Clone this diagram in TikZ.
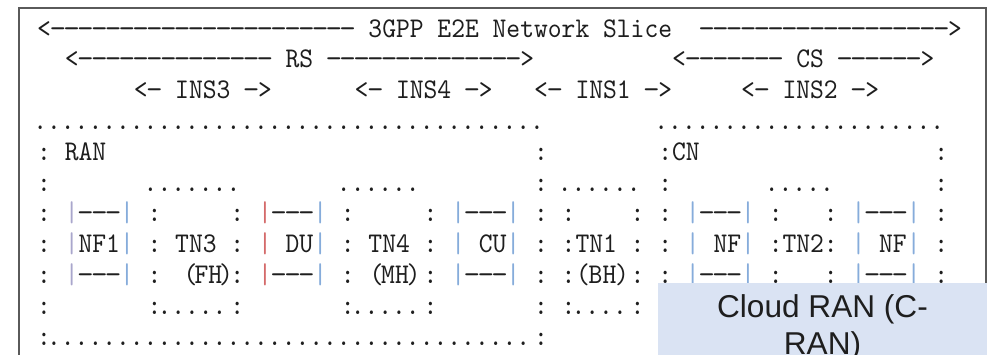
\documentclass[tikz,border=0pt]{standalone}
\usepackage{fontspec}
% typewriter grid: one character cell = 13.8 units wide
\setmonofont{lmmono10-regular.otf}[FakeStretch=0.9225]
\newfontfamily\crfont{Liberation Sans}

\definecolor{ink}{HTML}{1E1E1E}
\definecolor{frame}{HTML}{5A5A5A}
\definecolor{pipeblue}{HTML}{86ACDB}
\definecolor{pipered}{HTML}{D46A6A}
\definecolor{pipegray}{HTML}{A9A6CC}
\definecolor{cranfill}{HTML}{DAE3F3}

\newlength\cw
\newcommand\asc{\ttfamily\fontsize{28.5}{30}\selectfont\settowidth{\cw}{0}}
% n blank cells
\newcommand\gp[1]{\hspace*{#1\cw}}
% a dot sitting near the left of its cell
\newcommand\pd{\makebox[\cw][l]{\hspace*{-0.283\cw}.}}
\newcommand\pds[1]{\foreach\k in {1,...,#1}{\pd}}
% a long dash filling most of its cell
\newcommand\dd{\makebox[\cw][c]{\scalebox{1.2}[1]{-}}}
\newcommand\dsh[1]{\foreach\k in {1,...,#1}{\dd}}
\newcommand\pp[1]{\textcolor{#1}{|}}

\begin{document}
\begin{tikzpicture}[x=1pt,y=-1pt,
  row/.style={anchor=base west, inner sep=0pt, font=\asc, text=ink},
  lbl/.style={anchor=base, inner sep=0pt, font=\asc, text=ink},
  crtext/.style={anchor=base, inner sep=0pt, font=\crfont\fontsize{31.6}{36}\selectfont, text=ink}]
\useasboundingbox (0,0) rectangle (997,355);
\clip (0,0) rectangle (997,355);
\fill[white] (0,0) rectangle (997,355);

% outer frame
\draw[frame, line width=1.3pt] (19,8) rectangle (986,400);

% slice header
\node[row] (r0) at (37,37.1) {<\dsh{22}\gp{1}3GPP\gp{1}E2E\gp{1}Network\gp{1}Slice\gp{2}\dsh{18}>};
\node[row] (r1) at (37,67.9) {\gp{2}<\dsh{14}\gp{1}RS\gp{1}\dsh{14}>\gp{10}<\dsh{7}\gp{1}CS\gp{1}\dsh{6}>};
\node[row] (r2) at (37,98.7) {\gp{7}<\dsh{1}\gp{1}INS3\gp{1}\dsh{1}>\gp{6}<\dsh{1}\gp{1}INS4\gp{1}\dsh{1}>\gp{3}<\dsh{1}\gp{1}INS1\gp{1}\dsh{1}>\gp{5}<\dsh{1}\gp{1}INS2\gp{1}\dsh{1}>};

% RAN and CN domains
\node[row] (r3) at (37,129.5) {\pds{37}\gp{8}\pds{21}};
\node[row] (r4) at (37,160.3) {:\gp{1}RAN\gp{31}:\gp{8}:CN\gp{17}:};
\node[row] (r5) at (37,191.1) {:\gp{7}\pds{7}\gp{7}\pds{6}\gp{8}:\gp{1}\pds{6}\gp{1}:\gp{7}\pds{5}\gp{7}:};
\node[row] (r6) at (37,221.9) {:\gp{1}\pp{pipegray}\dsh{3}\pp{pipeblue}\gp{1}:\gp{5}:\gp{1}\pp{pipered}\dsh{3}\pp{pipeblue}\gp{1}:\gp{5}:\gp{1}\pp{pipeblue}\dsh{3}\pp{pipeblue}\gp{1}:\gp{1}:\gp{4}:\gp{1}:\gp{1}\pp{pipeblue}\dsh{3}\pp{pipeblue}\gp{1}:\gp{3}:\gp{1}\pp{pipeblue}\dsh{3}\pp{pipeblue}\gp{1}:};
\node[row] (r7) at (37,252.7) {:\gp{1}\pp{pipegray}NF1\pp{pipeblue}\gp{1}:\gp{1}TN3\gp{1}:\gp{1}\pp{pipered}\gp{1}DU\pp{pipeblue}\gp{1}:\gp{1}TN4\gp{1}:\gp{1}\pp{pipeblue}\gp{1}CU\pp{pipeblue}\gp{1}:\gp{1}:TN1\gp{1}:\gp{1}:\gp{1}\pp{pipeblue}\gp{1}NF\pp{pipeblue}\gp{1}:TN2:\gp{1}\pp{pipeblue}\gp{1}NF\pp{pipeblue}\gp{1}:};
\node[row] (r8) at (37,283.5) {:\gp{1}\pp{pipegray}\dsh{3}\pp{pipeblue}\gp{1}:\gp{5}:\gp{1}\pp{pipered}\dsh{3}\pp{pipeblue}\gp{1}:\gp{5}:\gp{1}\pp{pipeblue}\dsh{3}\pp{pipeblue}\gp{1}:\gp{1}:\gp{4}:\gp{1}:\gp{1}\pp{pipeblue}\dsh{3}\pp{pipeblue}\gp{1}:\gp{3}:\gp{1}\pp{pipeblue}\dsh{3}\pp{pipeblue}\gp{1}:};
\node[lbl] (fh) at (208.3,283.5) {(\kern-3pt FH\kern-3pt)};
\node[lbl] (mh) at (395,283.5) {(\kern-2.2pt MH\kern-2.2pt)};
\node[lbl] (bh) at (602.5,283.5) {(\kern-1.3pt BH\kern-1.3pt)};
\node[row] (r9) at (37,314.3) {:\gp{7}:\pds{5}:\gp{7}:\pds{5}:\gp{7}:\gp{1}:\pds{4}:};
\node[row] (r10) at (37,345.1) {:\pds{35}:};

% Cloud RAN call-out
\fill[cranfill] (658,283) rectangle (987,400);
\node[crtext] (cr1) at (822.5,318) {Cloud RAN (C-};
\node[crtext] (cr2) at (822.5,354.6) {RAN)};
\end{tikzpicture}
\end{document}
